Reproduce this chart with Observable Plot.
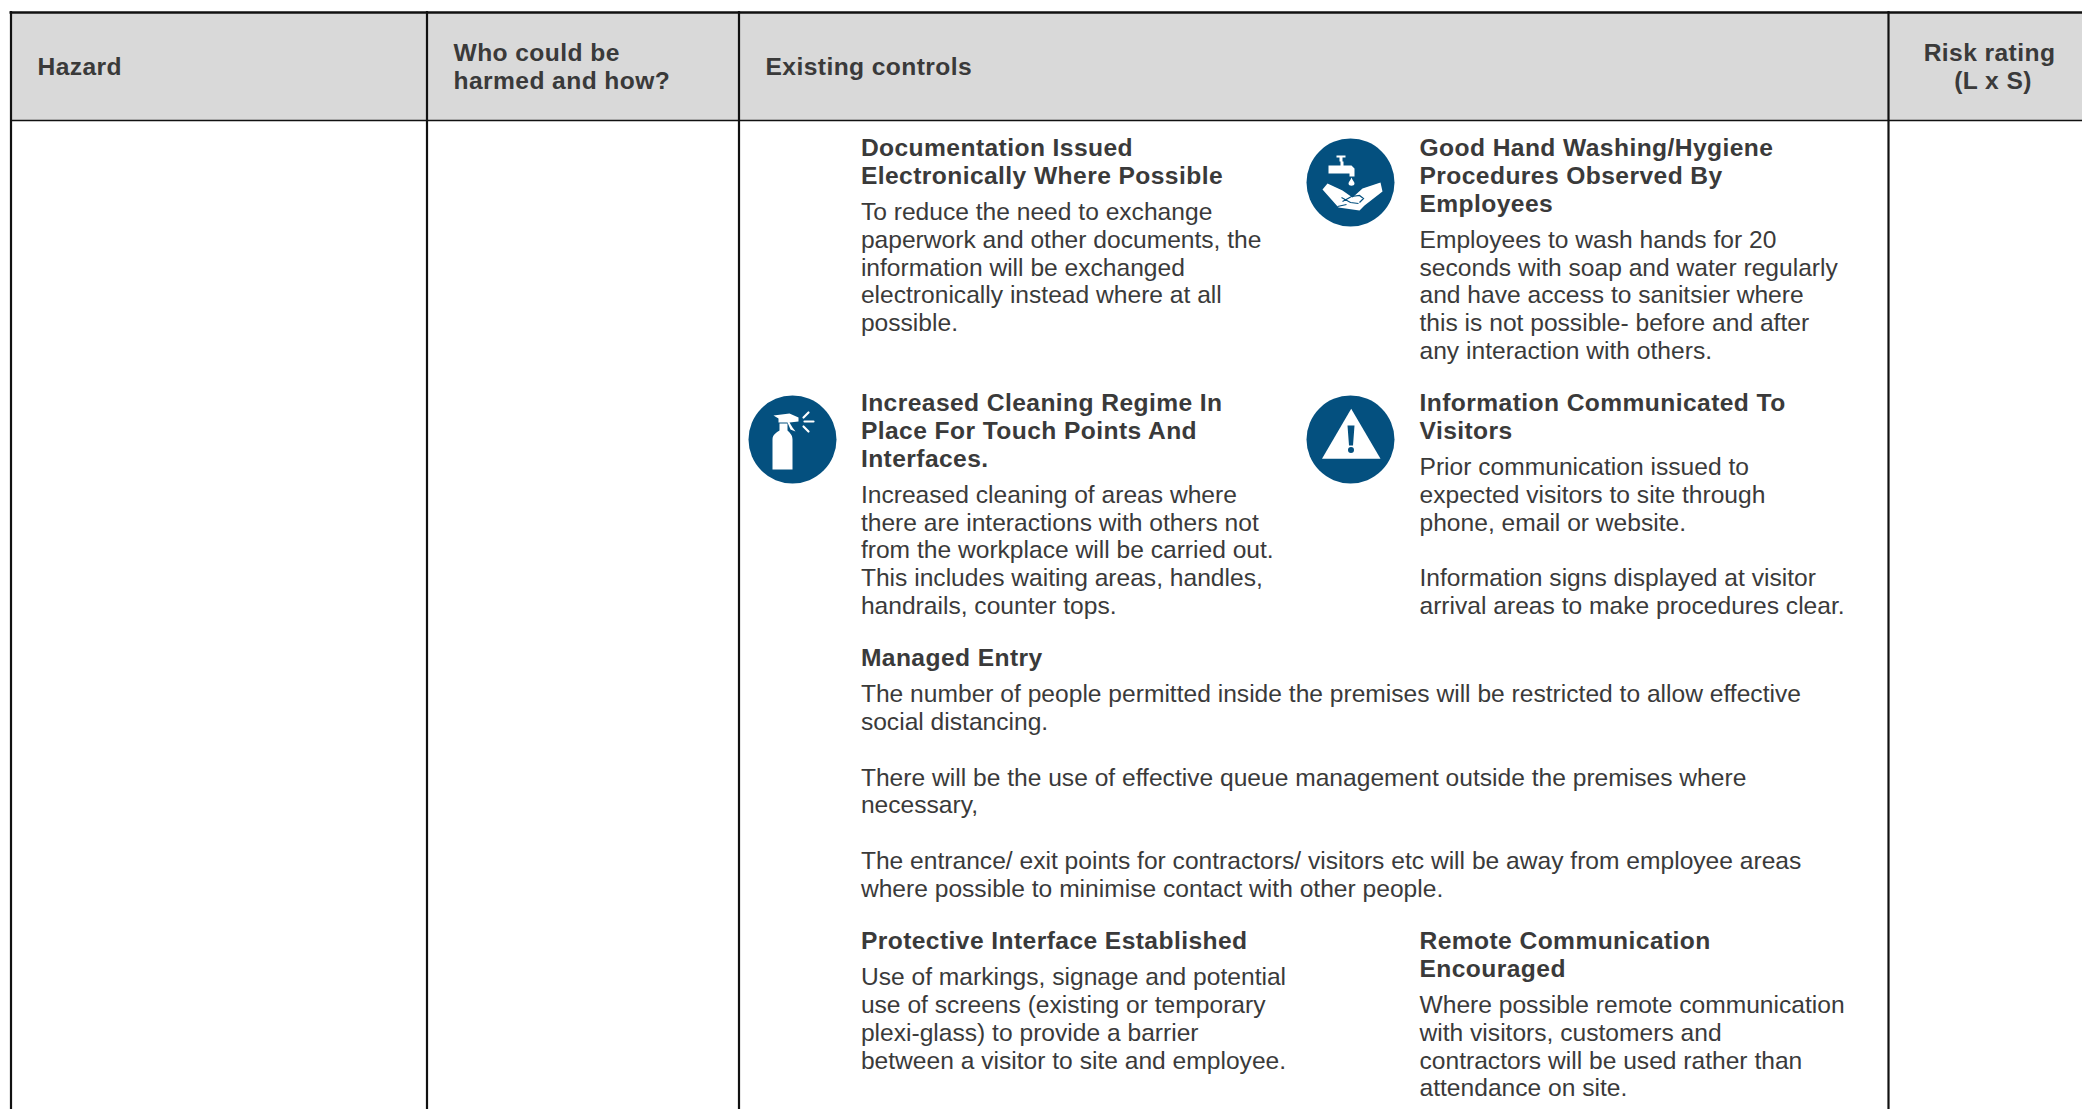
<!DOCTYPE html>
<html><head><meta charset="utf-8">
<script src="https://cdn.jsdelivr.net/npm/d3@7"></script>
<script src="https://cdn.jsdelivr.net/npm/@observablehq/plot@0.6"></script>
<style>
html,body{margin:0;padding:0;background:#fff;overflow:hidden}
svg{display:block}
g[font-weight="bold"] text{letter-spacing:.42px}
</style></head><body><div id="c"></div>
<script>
const W = 2082, H = 1109;
const columnEdges = [10.5, 426.5, 738.5, 1888, 2082];
const headerTitles = [
  {x: 37, y: 66.4, t: "Hazard"},
  {x: 453, y: 52.4, t: "Who could be"},
  {x: 453, y: 80.6, t: "harmed and how?"},
  {x: 765, y: 66.4, t: "Existing controls"}
];
const riskTitles = [{x: 1989, y: 52.4, t: "Risk rating"}, {x: 1992.5, y: 80.6, t: "(L x S)"}];

const docHead = ["Documentation Issued", "Electronically Where Possible"];
const docBody = ["To reduce the need to exchange", "paperwork and other documents, the", "information will be exchanged", "electronically instead where at all", "possible."];
const washHead = ["Good Hand Washing/Hygiene", "Procedures Observed By", "Employees"];
const washBody = ["Employees to wash hands for 20", "seconds with soap and water regularly", "and have access to sanitsier where", "this is not possible- before and after", "any interaction with others."];
const cleanHead = ["Increased Cleaning Regime In", "Place For Touch Points And", "Interfaces."];
const cleanBody = ["Increased cleaning of areas where", "there are interactions with others not", "from the workplace will be carried out.", "This includes waiting areas, handles,", "handrails, counter tops."];
const infoHead = ["Information Communicated To", "Visitors"];
const infoBody = ["Prior communication issued to", "expected visitors to site through", "phone, email or website.", "", "Information signs displayed at visitor", "arrival areas to make procedures clear."];
const entryHead = ["Managed Entry"];
const entryBody = ["The number of people permitted inside the premises will be restricted to allow effective", "social distancing.", "", "There will be the use of effective queue management outside the premises where", "necessary,", "", "The entrance/ exit points for contractors/ visitors etc will be away from employee areas", "where possible to minimise contact with other people."];
const shieldHead = ["Protective Interface Established"];
const shieldBody = ["Use of markings, signage and potential", "use of screens (existing or temporary", "plexi-glass) to provide a barrier", "between a visitor to site and employee."];
const remoteHead = ["Remote Communication", "Encouraged"];
const remoteBody = ["Where possible remote communication", "with visitors, customers and", "contractors will be used rather than", "attendance on site."];

const LEFT = 860.4, RIGHT = 1419, STEP = 27.75, GAP = 36;
const blocks = [
  [LEFT, 148, docHead, docBody], [RIGHT, 148, washHead, washBody],
  [LEFT, 403, cleanHead, cleanBody], [RIGHT, 403, infoHead, infoBody],
  [LEFT, 658, entryHead, entryBody],
  [LEFT, 941, shieldHead, shieldBody], [RIGHT, 941, remoteHead, remoteBody]
];
const heads = [], bodies = [];
for (const [x, y0, h, b] of blocks) {
  h.forEach((t, i) => heads.push({x, y: y0 + i * STEP, t}));
  const y1 = y0 + (h.length - 1) * STEP + GAP;
  b.forEach((t, i) => { if (t) bodies.push({x, y: y1 + i * STEP, t}); });
}

const BLUE = "#04507f", INK = "#3a3a3a";
const icons = [{x: 1350, y: 182, k: "wash"}, {x: 792, y: 439, k: "spray"}, {x: 1350, y: 439, k: "warn"}];

const poly = (c, pts) => { pts.forEach((p, i) => i ? c.lineTo(p[0], p[1]) : c.moveTo(p[0], p[1])); c.closePath(); };
const washWhite = {draw(c) {
  poly(c, [[-22,-17],[-10,-17],[-10,-21],[-11,-21],[-11,-25],[-14,-25],[-14,-27],[-5,-27],[-5,-25],[-8,-25],[-8,-21],[-7,-21],[-7,-17],[1,-17],[4,-14],[4,-6],[-1,-6],[-1,-9],[-22,-9]]);
  c.moveTo(1,-5); c.bezierCurveTo(0,-2,-2,-1,-2,1); c.bezierCurveTo(-2,4,4,4,4,1); c.bezierCurveTo(4,-1,2,-2,1,-5); c.closePath();
  poly(c, [[-28,7],[-23,1],[-8,8],[2,15],[12,6],[30,0],[32,9],[14,23],[9,28],[-12,25]]);
}};
const washBlue = {draw(c) {
  c.moveTo(-9,15); c.lineTo(0,20); c.lineTo(8,21);
  c.moveTo(-8,19); c.lineTo(1,14); c.lineTo(9,13); c.lineTo(13,16); c.lineTo(9,20);
  c.moveTo(-13,24); c.lineTo(-4,22);
}};
const sprayWhite = {draw(c) {
  c.moveTo(-20,0); c.lineTo(-20,30); c.lineTo(0,30); c.lineTo(0,0); c.bezierCurveTo(0,-5,-3,-7,-5,-9);
  c.lineTo(-5,-16); c.lineTo(-13,-16); c.lineTo(-13,-9); c.bezierCurveTo(-16,-7,-20,-5,-20,0); c.closePath();
  poly(c, [[-19,-24],[-3,-26],[6,-22],[6,-18],[-3,-17],[0,-12],[3,-8],[-2,-10],[-5,-17],[-14,-17],[-14,-21]]);
}};
const sprayLines = {draw(c) {
  c.moveTo(11,-22); c.lineTo(16,-27);
  c.moveTo(12,-18); c.lineTo(21,-18);
  c.moveTo(11,-13); c.lineTo(16,-8);
}};
const warnWhite = {draw(c) { poly(c, [[0.7,-30.7],[30,19.3],[-28.5,19.3]]); }};
const warnBlue = {draw(c) {
  poly(c, [[-3,-14],[4,-14],[2.5,6],[-1.5,6]]);
  c.moveTo(3.5,10.5); c.arc(0.5,10.5,3,0,2*Math.PI); c.closePath();
}};
const at = k => icons.filter(d => d.k === k);
const glyph = (k, symbol, o) => Plot.dot(at(k), {x: "x", y: "y", r: 10, symbol, ...o});

const chart = Plot.plot({
  width: W, height: H, margin: 0,
  x: {domain: [0, W], range: [0, W], axis: null},
  y: {domain: [0, H], range: [0, H], axis: null},
  style: {background: "#fff", fontFamily: "Liberation Sans"},
  marks: [
    Plot.rectY([{x1: columnEdges[0], x2: W, y1: 12, y2: 120}], {x1: "x1", x2: "x2", y1: "y1", y2: "y2", fill: "#d9d9d9"}),
    Plot.ruleY([12], {x1: columnEdges[0] - 1, x2: W, stroke: "#111", strokeWidth: 2.6}),
    Plot.ruleY([120], {x1: columnEdges[0], x2: W, stroke: "#111", strokeWidth: 1.6}),
    Plot.ruleX(columnEdges.slice(0, 4), {y1: 11, y2: H, stroke: "#111", strokeWidth: 2.2}),
    Plot.dot(icons, {x: "x", y: "y", r: 44, fill: BLUE}),
    glyph("wash", washWhite, {fill: "#fff"}),
    glyph("wash", washBlue, {fill: "none", stroke: BLUE, strokeWidth: 1.2}),
    glyph("spray", sprayWhite, {fill: "#fff"}),
    glyph("spray", sprayLines, {fill: "none", stroke: "#fff", strokeWidth: 2.2, strokeLinecap: "round"}),
    glyph("warn", warnWhite, {fill: "#fff"}),
    glyph("warn", warnBlue, {fill: BLUE}),
    Plot.text(headerTitles, {x: "x", y: "y", text: "t", textAnchor: "start", fontSize: 24.6, fontWeight: "bold", fill: INK}),
    Plot.text(riskTitles, {x: "x", y: "y", text: "t", textAnchor: "middle", fontSize: 24.6, fontWeight: "bold", fill: INK}),
    Plot.text(heads, {x: "x", y: "y", text: "t", textAnchor: "start", fontSize: 24.6, fontWeight: "bold", fill: INK}),
    Plot.text(bodies, {x: "x", y: "y", text: "t", textAnchor: "start", fontSize: 24.6, fill: INK})
  ]
});
document.getElementById("c").append(chart);
</script></body></html>
